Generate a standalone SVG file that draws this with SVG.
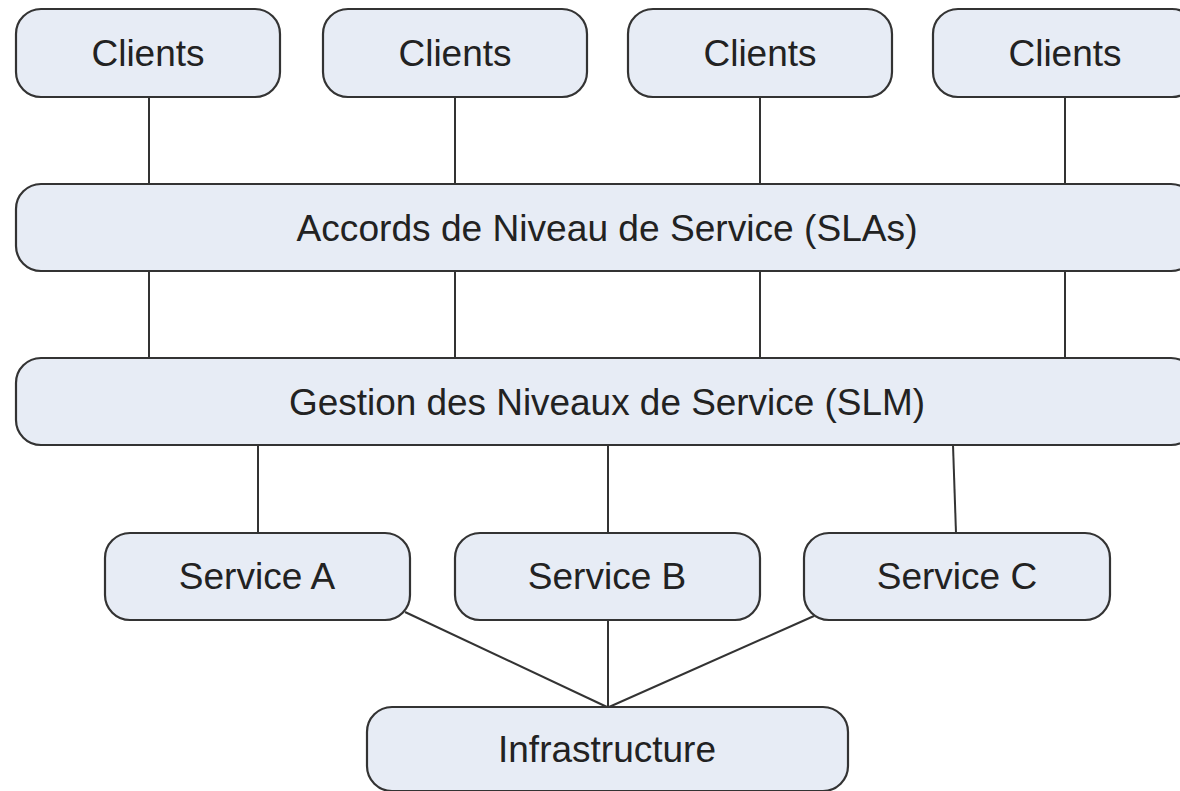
<svg xmlns="http://www.w3.org/2000/svg" width="1180" height="791" viewBox="0 0 1180 791">
<style>
.box{fill:#e7ecf5;stroke:#333;stroke-width:2.2}
.lbl{font-family:"Liberation Sans",Arial,sans-serif;font-size:37px;fill:#222;text-anchor:middle}
.con{stroke:#333;stroke-width:2;fill:none}
</style>
<rect width="1180" height="791" fill="#fff"/>
<g id="connectors">
<line class="con" x1="149" y1="97" x2="149" y2="184"/>
<line class="con" x1="455" y1="97" x2="455" y2="184"/>
<line class="con" x1="760" y1="97" x2="760" y2="184"/>
<line class="con" x1="1065" y1="97" x2="1065" y2="184"/>
<line class="con" x1="149" y1="271" x2="149" y2="358"/>
<line class="con" x1="455" y1="271" x2="455" y2="358"/>
<line class="con" x1="760" y1="271" x2="760" y2="358"/>
<line class="con" x1="1065" y1="271" x2="1065" y2="358"/>
<line class="con" x1="258" y1="445" x2="258" y2="533"/>
<line class="con" x1="608" y1="445" x2="608" y2="533"/>
<line class="con" x1="953" y1="445" x2="956" y2="533"/>
<line class="con" x1="405" y1="612" x2="607" y2="707"/>
<line class="con" x1="608" y1="620" x2="608" y2="707"/>
<line class="con" x1="814" y1="616" x2="609" y2="707"/>
</g>
<g id="client1"><rect class="box" x="16" y="9" width="264" height="88" rx="25"/><text class="lbl" x="148" y="66">Clients</text></g>
<g id="client2"><rect class="box" x="323" y="9" width="264" height="88" rx="25"/><text class="lbl" x="455" y="66">Clients</text></g>
<g id="client3"><rect class="box" x="628" y="9" width="264" height="88" rx="25"/><text class="lbl" x="760" y="66">Clients</text></g>
<g id="client4"><rect class="box" x="933" y="9" width="264" height="88" rx="25"/><text class="lbl" x="1065" y="66">Clients</text></g>
<g id="sla"><rect class="box" x="16" y="184" width="1180" height="87" rx="25"/><text class="lbl" x="607" y="241" textLength="621" lengthAdjust="spacingAndGlyphs">Accords de Niveau de Service (SLAs)</text></g>
<g id="slm"><rect class="box" x="16" y="358" width="1180" height="87" rx="25"/><text class="lbl" x="607" y="415" textLength="636" lengthAdjust="spacingAndGlyphs">Gestion des Niveaux de Service (SLM)</text></g>
<g id="serviceA"><rect class="box" x="105" y="533" width="305" height="87" rx="25"/><text class="lbl" x="257" y="589">Service A</text></g>
<g id="serviceB"><rect class="box" x="455" y="533" width="305" height="87" rx="25"/><text class="lbl" x="607" y="589">Service B</text></g>
<g id="serviceC"><rect class="box" x="804" y="533" width="306" height="87" rx="25"/><text class="lbl" x="957" y="589">Service C</text></g>
<g id="infrastructure"><rect class="box" x="367" y="707" width="481" height="84" rx="25"/><text class="lbl" x="607" y="762">Infrastructure</text></g>
</svg>
